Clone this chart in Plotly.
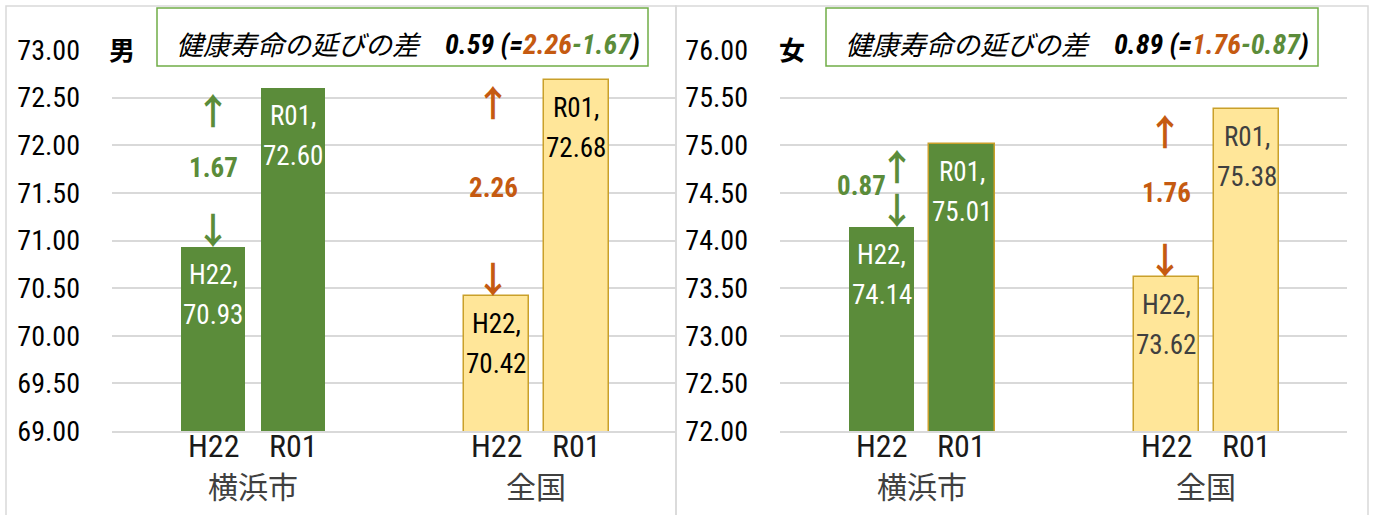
import plotly.graph_objects as go
from plotly.subplots import make_subplots

# ---------------- data ----------------
years = ["H22", "R01"]
groups = ["横浜市", "全国"]
sexes = ["男", "女"]
male_yokohama = [70.93, 72.60]
male_zenkoku = [70.42, 72.68]
female_yokohama = [74.14, 75.01]
female_zenkoku = [73.62, 75.38]
y_ranges = [[69.0, 73.0], [72.0, 76.0]]
title_jp = "健康寿命の延びの差"

# ---------------- style ----------------
W, H = 1375, 515
GREEN = "#5B8C3A"
YELLOW = "#FFE699"
GOLD = "#C9A02A"
ORANGE = "#C55A11"
GRID = "#D9D9D9"
NARROW = "Liberation Sans Narrow, Arial Narrow, Roboto Condensed, DejaVu Sans Condensed, sans-serif"
CJK = "Noto Sans CJK JP, sans-serif"
GAP = 3.54          # distance between group starts, in bar-slot units
BAR_W = 0.81
XRANGE = [-1.2625, 5.7875]

def px_x(p):
    return p / W

def px_y(p):
    return (H - p) / H

fig = make_subplots(rows=1, cols=2)
plot_x = [(112, 676), (780, 1347)]
plot_y = (50, 431)

panels = [
    dict(sex=sexes[0], data=[male_yokohama, male_zenkoku], yr=y_ranges[0],
         lbl_col=["white", "#000000"], diff_xshift=[0, -3], arrow_xshift=[0, -3],
         box=(157, 648), panel=(6, 676), r01_border=[False, False], sex_x=122),
    dict(sex=sexes[1], data=[female_yokohama, female_zenkoku], yr=y_ranges[1],
         lbl_col=["white", "#404040"], diff_xshift=[-20, 0], arrow_xshift=[15, -1],
         box=(826, 1318), panel=(676, 1368), r01_border=[True, False], sex_x=792),
]

annotations = []
shapes = []

for i, pn in enumerate(panels):
    col = i + 1
    xa = "x" if i == 0 else "x2"
    ya = "y" if i == 0 else "y2"
    for g, vals in enumerate(pn["data"]):
        xs = [g * GAP + s for s in range(len(years))]
        is_green = (g == 0)
        fill = GREEN if is_green else YELLOW
        if is_green:
            lc = [GOLD if (s == 1 and pn["r01_border"][0]) else GREEN for s in range(len(years))]
            lw = [1.5 if (s == 1 and pn["r01_border"][0]) else 0 for s in range(len(years))]
        else:
            lc = [GOLD] * len(years)
            lw = [1.5] * len(years)
        fig.add_trace(go.Bar(x=xs, y=vals, width=BAR_W, marker=dict(color=fill, line=dict(color=lc, width=lw)),
                             showlegend=False, hoverinfo="skip"), row=1, col=col)
        for s, (x, v) in enumerate(zip(xs, vals)):
            # data labels
            annotations.append(dict(x=x, y=v, xref=xa, yref=ya, text=f"{years[s]},", showarrow=False,
                                    yanchor="middle", yshift=-28,
                                    font=dict(family=NARROW, size=27, color=pn["lbl_col"][g])))
            annotations.append(dict(x=x, y=v, xref=xa, yref=ya, text=f"{v:.2f}", showarrow=False,
                                    yanchor="middle", yshift=-68,
                                    font=dict(family=NARROW, size=27, color=pn["lbl_col"][g])))
            # category tick label
            annotations.append(dict(x=x, y=px_y(446), xref=xa, yref="paper", text=years[s],
                                    showarrow=False, yanchor="middle",
                                    font=dict(family=NARROW, size=32, color="#1a1a1a")))
        # difference label and arrows
        d = vals[1] - vals[0]
        dcol = GREEN if is_green else ORANGE
        annotations.append(dict(x=xs[0], y=(vals[0] + vals[1]) / 2, xref=xa, yref=ya,
                                text=f"<b>{d:.2f}</b>", showarrow=False, xshift=pn["diff_xshift"][g],
                                font=dict(family=NARROW, size=27, color=dcol)))
        annotations.append(dict(x=xs[0], y=vals[1], xref=xa, yref=ya, text="<b>↑</b>", showarrow=False,
                                yshift=-21, xshift=pn["arrow_xshift"][g],
                                font=dict(family=CJK, size=36, color=dcol)))
        annotations.append(dict(x=xs[0], y=vals[0], xref=xa, yref=ya, text="<b>↓</b>", showarrow=False,
                                yshift=19, xshift=pn["arrow_xshift"][g],
                                font=dict(family=CJK, size=36, color=dcol)))
        # group label
        annotations.append(dict(x=(xs[0] + xs[-1]) / 2, y=px_y(485), xref=xa, yref="paper",
                                text=groups[g], showarrow=False, yanchor="middle",
                                font=dict(family=CJK, size=30, color="#404040")))

    # axes
    xkey = "xaxis" if i == 0 else "xaxis2"
    ykey = "yaxis" if i == 0 else "yaxis2"
    fig.layout[xkey].update(domain=[px_x(plot_x[i][0]), px_x(plot_x[i][1])], range=XRANGE,
                            showticklabels=False,
                            showgrid=False, zeroline=False, showline=True, linecolor=GRID, linewidth=1.5,
                            ticks="", fixedrange=True, automargin=False)
    fig.layout[ykey].update(domain=[px_y(plot_y[1]), px_y(plot_y[0])], range=pn["yr"],
                            dtick=0.5, tick0=0, tickformat=".2f",
                            tickfont=dict(family=NARROW, size=28, color="#000000"),
                            showgrid=True, gridcolor=GRID, gridwidth=1.5, zeroline=False,
                            showline=False, ticks="", ticklabelstandoff=31, fixedrange=True,
                            automargin=False)

    # panel border
    shapes.append(dict(type="rect", xref="paper", yref="paper",
                       x0=px_x(pn["panel"][0]), x1=px_x(pn["panel"][1]),
                       y0=-0.05, y1=px_y(6), line=dict(color=GRID, width=1.5), fillcolor="rgba(0,0,0,0)",
                       layer="below"))
    # sex label
    annotations.append(dict(x=px_x(pn["sex_x"]), y=px_y(48), xref="paper", yref="paper",
                            text=f"<b>{pn['sex']}</b>", showarrow=False, xanchor="center", yanchor="middle",
                            font=dict(family=CJK, size=26, color="#000000")))
    # title box
    bx0, bx1 = pn["box"]
    shapes.append(dict(type="rect", xref="paper", yref="paper", x0=px_x(bx0), x1=px_x(bx1),
                       y0=px_y(66), y1=px_y(8), line=dict(color="#70AD47", width=1.5),
                       fillcolor="rgba(0,0,0,0)", layer="above"))
    dy = pn["data"][0][1] - pn["data"][0][0]
    dz = pn["data"][1][1] - pn["data"][1][0]
    annotations.append(dict(x=px_x(bx0 + 18), y=px_y(44), xref="paper", yref="paper",
                            text=f"<i>{title_jp}</i>", showarrow=False, bgcolor="white", borderpad=0,
                            xanchor="left", yanchor="middle",
                            font=dict(family=CJK, size=27, color="#000000")))
    num = (f"<b><i>{dz - dy:.2f} (="
           f"<span style='color:{ORANGE}'>{dz:.2f}</span>"
           f"<span style='color:{GREEN}'>-{dy:.2f}</span>)</i></b>")
    annotations.append(dict(x=px_x(bx0 + 287), y=px_y(45), xref="paper", yref="paper",
                            text=num, showarrow=False, bgcolor="white", borderpad=0,
                            xanchor="left", yanchor="middle",
                            font=dict(family=NARROW, size=28, color="#000000")))

fig.update_layout(width=W, height=H, margin=dict(l=0, r=0, t=0, b=0, autoexpand=False),
                  paper_bgcolor="white", plot_bgcolor="white", bargap=0,
                  annotations=annotations, shapes=shapes, showlegend=False)

fig.write_html("out.html", config={"displayModeBar": False},
               post_script="document.body.style.margin='0';document.body.style.overflow='hidden';")
